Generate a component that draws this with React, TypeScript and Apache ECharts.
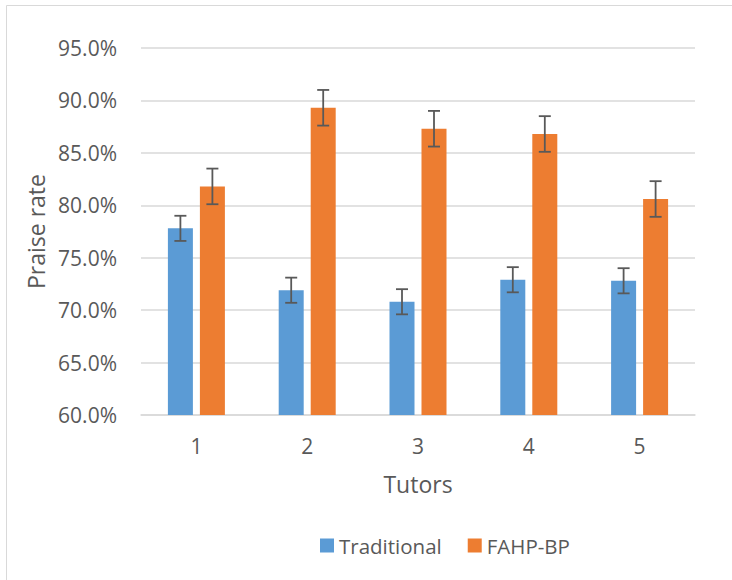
import React, { useEffect, useRef } from "react";
import * as echarts from "echarts";

const categories = ["1", "2", "3", "4", "5"];
const traditional = [77.8, 71.9, 70.8, 72.9, 72.8];
const fahpbp = [81.8, 89.3, 87.3, 86.8, 80.6];
const traditionalErr = [1.2, 1.2, 1.2, 1.2, 1.2];
const fahpbpErr = [1.7, 1.7, 1.7, 1.7, 1.7];

const FONT = "Open Sans";
const TEXT = "#595959";

function errorSeries(values: number[], errs: number[], offset: number) {
  return {
    type: "custom",
    silent: true,
    z: 10,
    data: values.map((v, i) => [i, v - errs[i], v + errs[i]]),
    renderItem: (params: any, api: any) => {
      const x = api.value(0);
      const lo = api.coord([x, api.value(1)]);
      const hi = api.coord([x, api.value(2)]);
      const cx = lo[0] + offset;
      const cap = 6;
      const style = { stroke: "#595959", lineWidth: 1.8 };
      return {
        type: "group",
        children: [
          { type: "line", shape: { x1: cx, y1: hi[1], x2: cx, y2: lo[1] }, style },
          { type: "line", shape: { x1: cx - cap, y1: hi[1], x2: cx + cap, y2: hi[1] }, style },
          { type: "line", shape: { x1: cx - cap, y1: lo[1], x2: cx + cap, y2: lo[1] }, style },
        ],
      };
    },
  };
}

export default function App() {
  const ref = useRef<HTMLDivElement>(null);
  useEffect(() => {
    document.body.style.margin = "0";
    if (!ref.current) return;
    const chart = echarts.init(ref.current, undefined, { renderer: "svg" });
    chart.setOption({
      animation: false,
      backgroundColor: "#fff",
      textStyle: { fontFamily: FONT },
      graphic: [
        {
          type: "rect",
          shape: { x: 6.5, y: 5.5, width: 740, height: 600 },
          style: { fill: "none", stroke: "#D9D9D9", lineWidth: 1 },
          silent: true,
        },
      ],
      grid: { left: 141, right: 37, top: 48, bottom: 165 },
      legend: {
        left: 315,
        top: 530,
        itemWidth: 14,
        itemHeight: 14,
        itemGap: 26,
        icon: "rect",
        textStyle: { color: TEXT, fontSize: 20.5, fontFamily: FONT },
        data: ["Traditional", "FAHP-BP"],
      },
      xAxis: {
        type: "category",
        data: categories,
        name: "Tutors",
        nameLocation: "middle",
        nameGap: 57,
        nameTextStyle: { color: TEXT, fontSize: 23, fontFamily: FONT },
        axisLine: { lineStyle: { color: "#D9D9D9", width: 1.5 } },
        axisTick: { show: false },
        axisLabel: { color: TEXT, fontSize: 21, margin: 20, fontFamily: FONT },
      },
      yAxis: {
        type: "value",
        min: 60,
        max: 95,
        interval: 5,
        name: "Praise rate",
        nameLocation: "middle",
        nameGap: 85,
        nameTextStyle: { color: TEXT, fontSize: 23, fontFamily: FONT },
        axisLine: { show: false },
        axisTick: { show: false },
        axisLabel: {
          color: TEXT,
          fontSize: 21,
          margin: 24,
          fontFamily: FONT,
          formatter: (v: number) => v.toFixed(1) + "%",
        },
        splitLine: { lineStyle: { color: "#D9D9D9", width: 1.5 } },
      },
      series: [
        {
          name: "Traditional",
          type: "bar",
          data: traditional,
          barWidth: 25,
          barGap: "28%",
          itemStyle: { color: "#5B9BD5" },
        },
        {
          name: "FAHP-BP",
          type: "bar",
          data: fahpbp,
          barWidth: 25,
          barGap: "28%",
          itemStyle: { color: "#ED7D31" },
        },
        errorSeries(traditional, traditionalErr, -16),
        errorSeries(fahpbp, fahpbpErr, 16),
      ],
    });
    return () => chart.dispose();
  }, []);
  return <div ref={ref} style={{ width: 732, height: 580 }} />;
}
